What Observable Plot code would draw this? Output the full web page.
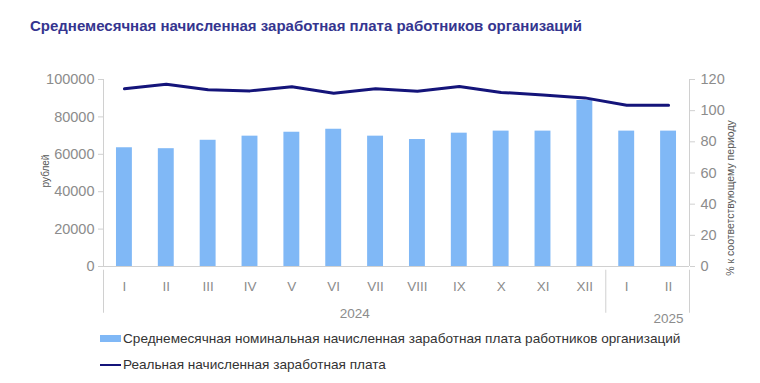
<!DOCTYPE html>
<html>
<head>
<meta charset="utf-8">
<script src="https://cdn.jsdelivr.net/npm/d3@7"></script>
<script src="https://cdn.jsdelivr.net/npm/@observablehq/plot@0.6"></script>
<style>
  body { margin: 0; background: #fff; font-family: Arial, "Liberation Sans", sans-serif; }
  #wrap { position: relative; width: 760px; height: 383px; overflow: hidden; }
  #title { height: 50px; box-sizing: border-box; padding: 17px 0 0 30px; font-weight: bold; font-size: 15px; color: #35358f; white-space: nowrap; }
  #chart svg { display: block; }
  #legend { position: relative; height: 58px; font-size: 13.6px; color: #333; }
  .lg { position: absolute; left: 100px; display: flex; align-items: center; white-space: nowrap; }
  .sw { width: 21px; margin-right: 2px; }
</style>
</head>
<body>
<div id="wrap">
  <div id="title">Среднемесячная начисленная заработная плата работников организаций</div>
  <div id="chart"></div>
  <div id="legend"></div>
</div>
<script>
const months = ["I","II","III","IV","V","VI","VII","VIII","IX","X","XI","XII","I","II"];
const years = ["2024", "2025"];
const nominal = [63500, 63000, 67500, 69700, 71800, 73400, 69700, 67900, 71300, 72400, 72400, 88800, 72400, 72400];
const real = [114.0, 117.0, 113.4, 112.7, 115.3, 111.2, 114.0, 112.5, 115.5, 111.7, 110.0, 108.2, 103.5, 103.5];
const leftTicks = [0, 20000, 40000, 60000, 80000, 100000];
const rightTicks = [0, 20, 40, 60, 80, 100, 120];
const barName = "Среднемесячная номинальная начисленная заработная плата работников организаций";
const lineName = "Реальная начисленная заработная плата";
const leftLabel = "рублей";
const rightLabel = "% к соответствующему периоду";

const barColor = "#80b8f6";
const lineColor = "#14147a";
const axisColor = "#d0d0d0";
const textColor = "#8c8c8c";

const k = 100000 / 120;
const data = months.map((m, i) => ({i, m, nominal: nominal[i], real: real[i]}));
const n = months.length;
const bw = 0.38;

const chart = Plot.plot({
  width: 760,
  height: 275,
  marginLeft: 103,
  marginRight: 71,
  marginTop: 29,
  marginBottom: 59,
  style: {fontFamily: "Arial, 'Liberation Sans', sans-serif", background: "#fff"},
  x: {type: "linear", domain: [0, n]},
  y: {domain: [0, 100000]},
  marks: [
    Plot.rectY(data, {x1: d => d.i + 0.5 - bw / 2, x2: d => d.i + 0.5 + bw / 2, y: "nominal", fill: barColor}),
    Plot.ruleY([0], {stroke: axisColor}),
    Plot.ruleX([0, n], {y1: 0, y2: 100000, stroke: axisColor}),
    Plot.ruleX([0, 12, n], {y1: -2000, y2: -25000, stroke: axisColor}),
    Plot.line(data, {x: d => d.i + 0.5, y: d => d.real * k, stroke: lineColor, strokeWidth: 3}),
    Plot.axisY({anchor: "left", ticks: leftTicks, tickFormat: d => String(d), tickSize: 5, tickPadding: 4, stroke: axisColor, fill: textColor, fontSize: 14.5, label: null}),
    Plot.axisY({anchor: "right", ticks: rightTicks.map(v => v * k), tickFormat: d => String(Math.round(d / k)), tickSize: 5, tickPadding: 6, stroke: axisColor, fill: textColor, fontSize: 14.5, label: null}),
    Plot.axisX({ticks: d3.range(n).map(i => i + 0.5), tickFormat: d => months[Math.floor(d)], tickSize: 0, tickPadding: 15, fill: textColor, fontSize: 13.5, label: null}),
    Plot.text([years[0]], {x: 6, frameAnchor: "bottom", lineAnchor: "middle", dy: 47, fill: textColor, fontSize: 13.5}),
    Plot.text([years[1]], {x: n - 0.5, frameAnchor: "bottom", lineAnchor: "middle", dy: 52, fill: textColor, fontSize: 13.5}),
    Plot.text([leftLabel], {frameAnchor: "left", textAnchor: "middle", dx: -58, dy: -2, rotate: -90, fill: "#555", fontSize: 10}),
    Plot.text([rightLabel], {frameAnchor: "right", textAnchor: "middle", dx: 41, dy: 25, rotate: -90, fill: "#555", fontSize: 10.5})
  ]
});
document.getElementById("chart").append(chart);

const legend = document.getElementById("legend");
legend.innerHTML = `
  <div class="lg" style="top:6px"><div class="sw" style="height:7px;background:${barColor}"></div><span>${barName}</span></div>
  <div class="lg" style="top:32px"><div class="sw" style="height:2px;background:${lineColor}"></div><span>${lineName}</span></div>
`;
</script>
</body>
</html>
